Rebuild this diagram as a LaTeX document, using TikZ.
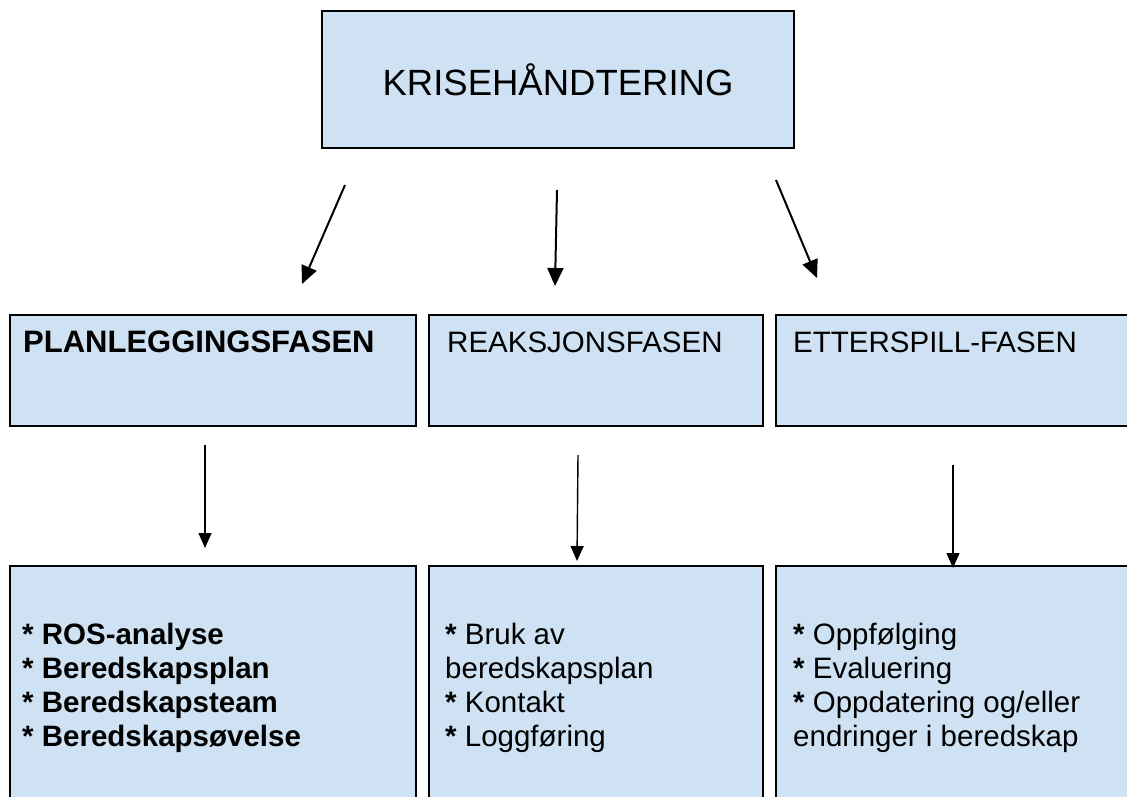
\documentclass[tikz,border=0pt]{standalone}
\usepackage{fontspec}
\setmainfont{Liberation Sans}
\usetikzlibrary{arrows.meta}
\definecolor{boxblue}{HTML}{CFE2F3}
\newcommand{\bul}{\textbf{*}}
\begin{document}
\begin{tikzpicture}[x=1pt,y=-1pt,
  box/.style={draw=black,line width=2pt,fill=boxblue,inner sep=0pt},
  bigarr/.style={line width=2pt,-{Triangle[length=18pt,width=16pt]}},
  smallarr/.style={line width=1.4pt,-{Triangle[length=15pt,width=13pt]}},
  lbl/.style={font=\fontsize{29.5}{33.7}\selectfont,anchor=base west,inner sep=0pt,align=left}]
\useasboundingbox (0,0) rectangle (1127,796);
\clip (0,0) rectangle (1127,796);
% top box
\node[box,minimum width=472pt,minimum height=137pt,font=\fontsize{36.5}{40}\selectfont] (top) at (558,79.5) {KRISEHÅNDTERING};
% middle boxes
\node[box,minimum width=406pt,minimum height=111pt] (m1) at (213,370.5) {};
\node[box,minimum width=334pt,minimum height=111pt] (m2) at (596,370.5) {};
\node[box,minimum width=372pt,minimum height=111pt] (m3) at (962,370.5) {};
\node[lbl,font=\fontsize{31}{34}\selectfont\bfseries] (m1t) at (23,352) {PLANLEGGINGSFASEN};
\node[lbl] (m2t) at (447,352) {REAKSJONSFASEN};
\node[lbl] (m3t) at (793,352) {ETTERSPILL-FASEN};
% bottom boxes
\node[box,minimum width=406pt,minimum height=254pt] (b1) at (213,693) {};
\node[box,minimum width=334pt,minimum height=254pt] (b2) at (596,693) {};
\node[box,minimum width=372pt,minimum height=254pt] (b3) at (962,693) {};
\node[lbl] (b1t) at (22,746) {\bul{} \textbf{ROS-analyse}\\\bul{} \textbf{Beredskapsplan}\\\bul{} \textbf{Beredskapsteam}\\\bul{} \textbf{Beredskapsøvelse}};
\node[lbl] (b2t) at (445,746) {\bul{} Bruk av\\beredskapsplan\\\bul{} Kontakt\\\bul{} Loggføring};
\node[lbl] (b3t) at (793,746) {\bul{} Oppfølging\\\bul{} Evaluering\\\bul{} Oppdatering og/eller\\endringer i beredskap};
% arrows
\coordinate (a1s) at (345,185); \coordinate (a1e) at (302,284);
\coordinate (a2s) at (557,190); \coordinate (a2e) at (555,286);
\coordinate (a3s) at (776,180); \coordinate (a3e) at (817,278);
\coordinate (c1s) at (205,445); \coordinate (c1e) at (205,548);
\coordinate (c2s) at (578,455); \coordinate (c2e) at (577,561);
\coordinate (c3s) at (953,465); \coordinate (c3e) at (953,568);
\draw[bigarr] (a1s) -- (a1e);
\draw[bigarr] (a2s) -- (a2e);
\draw[bigarr] (a3s) -- (a3e);
\draw[smallarr] (c1s) -- (c1e);
\draw[smallarr] (c2s) -- (c2e);
\draw[smallarr] (c3s) -- (c3e);
\end{tikzpicture}
\end{document}
